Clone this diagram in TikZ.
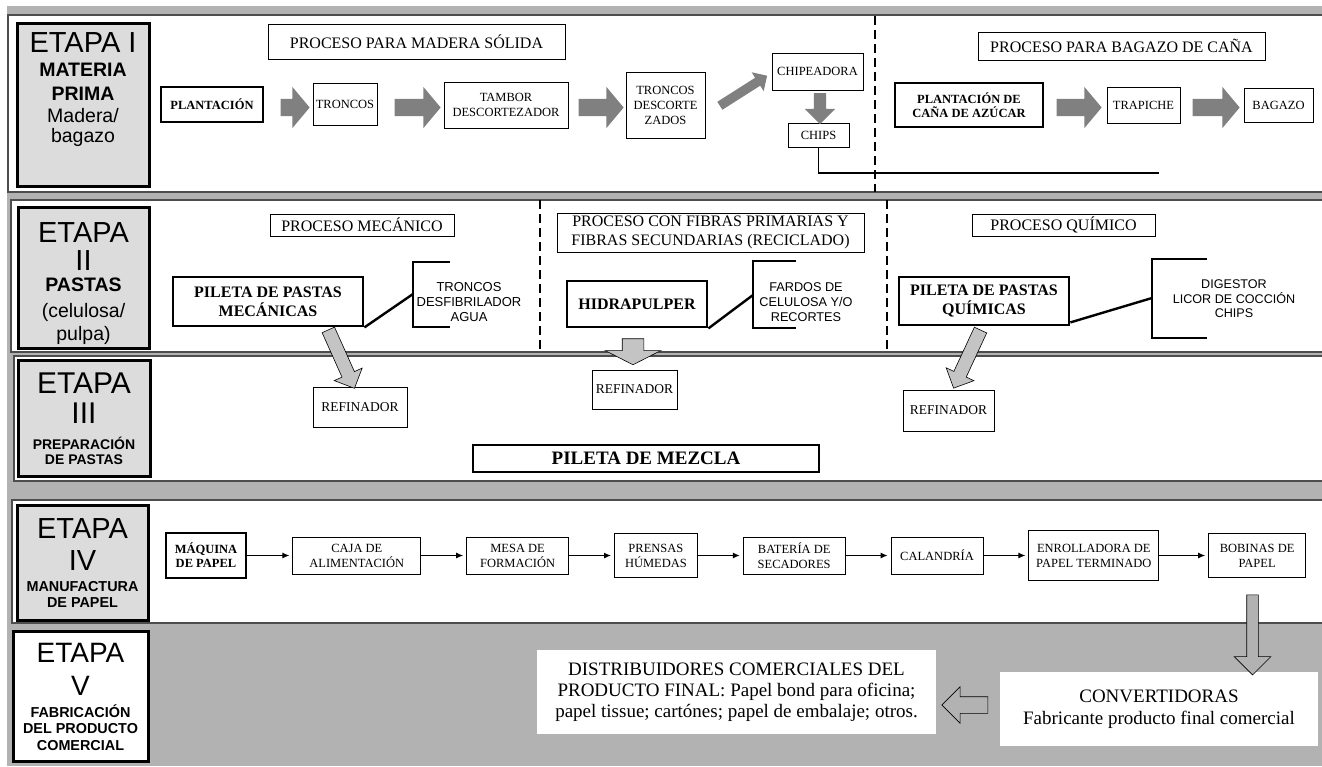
\documentclass[tikz,border=0pt]{standalone}
\usepackage{fontspec}
\setmainfont{Liberation Serif}
\setsansfont{Liberation Sans}
\usetikzlibrary{arrows.meta,shapes.arrows,positioning}
\definecolor{bandgray}{HTML}{B2B2B2}
\definecolor{etapagray}{HTML}{DCDCDC}
\definecolor{fatgray}{HTML}{808080}
\definecolor{lightarrow}{HTML}{C4C4C4}
\definecolor{secline}{HTML}{4D4D4D}
\newcommand{\fsz}[2]{\fontsize{#1}{#2}\selectfont}

\begin{document}
\begin{tikzpicture}[x=1pt, y=-1pt,
    sect/.style = {draw=secline, line width=1.3pt, fill=white},
    etapa/.style = {draw, line width=3pt, fill=etapagray, inner sep=0},
    etxt/.style = {font=\sffamily\fsz{14}{24}, align=center, inner sep=0, anchor=north},
    box/.style = {draw, line width=0.8pt, fill=white, inner sep=0, align=center, font=\fsz{12.5}{15}},
    heavy/.style = {box, line width=2.8pt, font=\bfseries\fsz{12.5}{14}},
    proc/.style = {box, font=\fsz{16}{19.5}},
    ins/.style = {font=\sffamily\fsz{13}{15}, align=center, inner sep=0},
    brk/.style = {line width=2.4pt},
    dashln/.style = {line width=1.3pt, dash pattern=on 9pt off 5pt},
    flow/.style = {-{Latex[length=7pt,width=6pt]}, line width=1.1pt, shorten >=3pt},
    fat/.style = {single arrow, fill=fatgray, inner xsep=0, inner ysep=8.5pt,
                  single arrow head extend=12pt, single arrow tip angle=100},
    outarr/.style = {single arrow, draw, line width=0.6pt, fill=lightarrow, inner xsep=0,
                     single arrow tip angle=90}]

% fondo y franjas
\useasboundingbox (0,0) rectangle (1322,766);
\fill[white] (0,0) rectangle (1322,766);
\fill[bandgray] (7,6) rectangle (1322,766);
\draw[sect] (8,15) rectangle (1330,192);
\draw[sect] (11,200) rectangle (1330,352);
\draw[sect] (14,356) rectangle (1330,481);
\draw[sect] (12,500) rectangle (1330,623);

% etapas
\node[etapa, minimum width=132, minimum height=163] (et1) at (83,104.5) {};
\node[etxt] (et1t) at (83,32) {{\fsz{29}{30}ETAPA I}\\
  {\bfseries\fsz{19.5}{22}MATERIA}\\
  {\bfseries\fsz{19.5}{22}PRIMA}\\[-2pt]
  {\fsz{19.5}{22}Madera/}\\[-4pt]
  {\fsz{19.5}{22}bagazo}};
\node[etapa, minimum width=131, minimum height=141] (et2) at (83.5,277.5) {};
\node[etxt] (et2t) at (83.5,222) {{\fsz{29}{30}ETAPA}\\[4pt]
  {\fsz{29}{30}II}\\[-3pt]
  {\bfseries\fsz{19.5}{22}PASTAS}\\[2pt]
  {\fsz{19.5}{22}(celulosa/}\\[-1pt]
  {\fsz{19.5}{22}pulpa)}};
\node[etapa, minimum width=132, minimum height=116] (et3) at (84,418) {};
\node[etxt] (et3t) at (84,373) {{\fsz{30}{30}ETAPA}\\[6pt]
  {\fsz{30}{30}III}\\[2pt]
  {\bfseries\fsz{14}{16}PREPARACIÓN}\\[-9pt]
  {\bfseries\fsz{14}{16}DE PASTAS}};
\node[etapa, minimum width=131, minimum height=115] (et4) at (82.5,562.5) {};
\node[etxt] (et4t) at (82.5,518) {{\fsz{29}{30}ETAPA}\\[8pt]
  {\fsz{29}{30}IV}\\[-3pt]
  {\bfseries\fsz{14.4}{16}MANUFACTURA}\\[-8pt]
  {\bfseries\fsz{14.4}{16}DE PAPEL}};
\node[etapa, fill=white, minimum width=135, minimum height=130] (et5) at (80.5,696) {};
\node[etxt] (et5t) at (80.5,643) {{\fsz{28}{30}ETAPA}\\[9pt]
  {\fsz{28}{30}V}\\[-2pt]
  {\bfseries\fsz{14.4}{16}FABRICACIÓN}\\[-8pt]
  {\bfseries\fsz{14.4}{16}DEL PRODUCTO}\\[-7pt]
  {\bfseries\fsz{14.4}{16}COMERCIAL}};

% etapa I
\node[proc, minimum width=297, minimum height=35] (madlbl) at (416.5,41.5) {PROCESO PARA MADERA SÓLIDA};
\node[heavy, minimum width=102, minimum height=35] (plant) at (212,104.5) {PLANTACIÓN};
\node[box, minimum width=64, minimum height=42] (tronc) at (345,104) {TRONCOS};
\node[box, minimum width=124, minimum height=46] (tambor) at (506,105) {TAMBOR\\DESCORTEZADOR};
\node[box, minimum width=79, minimum height=66] (tdesc) at (665.5,105) {TRONCOS\\DESCORTE\\ZADOS};
\node[box, minimum width=91, minimum height=37] (chipead) at (817.5,71.5) {CHIPEADORA};
\node[box, minimum width=61, minimum height=24] (chips) at (818.5,135) {CHIPS};
\node[proc, minimum width=287, minimum height=28] (bagzlbl) at (1121.5,46) {PROCESO PARA BAGAZO DE CAÑA};
\node[heavy, minimum width=148, minimum height=44] (plcana) at (969,105) {PLANTACIÓN DE\\CAÑA DE AZÚCAR};
\node[box, minimum width=73, minimum height=36] (trap) at (1143.5,105) {TRAPICHE};
\node[box, minimum width=69, minimum height=34] (bagazo) at (1278.5,105) {BAGAZO};

\node[fat, minimum height=29] (f1) at (291.5,107.5) {};
\node[fat, minimum height=46] (f2) at (414,107.5) {};
\node[fat, minimum height=45] (f3) at (597.5,107.5) {};
\node[fat, inner ysep=4.5pt, single arrow head extend=6.5pt, single arrow tip angle=90,
      minimum height=56, rotate=32.5] (f4) at (741.5,92) {};
\node[fat, inner ysep=6pt, single arrow head extend=9pt, single arrow tip angle=90,
      minimum height=31, rotate=-90] (f5) at (820,105.5) {};
\node[fat, minimum height=45] (f6) at (1075.5,107.5) {};
\node[fat, minimum height=47] (f7) at (1212.5,107.5) {};

\draw[dashln] (875,16) -- (875,192);
\coordinate (chipsend) at (1159,173);
\draw[line width=1.8pt] (chips.south) |- (chipsend);

% etapa II
\node[proc, minimum width=184, minimum height=22] (meclbl) at (362,225) {PROCESO MECÁNICO};
\node[proc, minimum width=307, minimum height=39] (fiblbl) at (710.5,232.5) {PROCESO CON FIBRAS PRIMARIAS Y\\FIBRAS SECUNDARIAS (RECICLADO)};
\node[proc, minimum width=183, minimum height=22] (quilbl) at (1063.5,225) {PROCESO QUÍMICO};
\node[heavy, font=\bfseries\fsz{16}{19}, minimum width=190, minimum height=49] (pilmec) at (268,301.5) {PILETA DE PASTAS\\MECÁNICAS};
\node[heavy, font=\bfseries\fsz{16}{19}, minimum width=140, minimum height=46] (hidra) at (637,304) {HIDRAPULPER};
\node[heavy, font=\bfseries\fsz{16}{19}, minimum width=170, minimum height=48] (pilqui) at (984,301) {PILETA DE PASTAS\\QUÍMICAS};

\node[ins] (mecin) at (469,302) {TRONCOS\\DESFIBRILADOR\\AGUA};
\coordinate (b1) at (413,294);
\draw[brk] (450,262) -| (413,327) -- (450,327);
\draw[brk] (pilmec.south east) -- (b1);

\node[ins, font=\sffamily\fsz{12.7}{15}] (fibin) at (806,302) {FARDOS DE\\CELULOSA Y/O\\RECORTES};
\coordinate (b2) at (753,295);
\draw[brk] (796,261) -| (753,328) -- (796,328);
\draw[brk] (hidra.south east) -- (b2);

\node[ins, font=\sffamily\fsz{12.6}{14.5}] (quiin) at (1234,299) {DIGESTOR\\LICOR DE COCCIÓN\\CHIPS};
\coordinate (b3) at (1152,298);
\draw[brk] (1207,259) -| (1152,338) -- (1207,338);
\draw[brk] ([yshift=4pt]pilqui.south east) -- (b3);

\draw[dashln] (540,200) -- (540,352);
\draw[dashln] (887,200) -- (887,352);

% etapa III
\node[box, font=\fsz{13.5}{16}, minimum width=94, minimum height=40] (ref1) at (360,407) {REFINADOR};
\node[box, font=\fsz{13.5}{16}, minimum width=85, minimum height=39] (ref2) at (634.5,389.5) {REFINADOR};
\node[box, font=\fsz{13.5}{16}, minimum width=91, minimum height=41] (ref3) at (948.5,410.5) {REFINADOR};
\node[heavy, font=\bfseries\fsz{19}{22}, minimum width=346, minimum height=27] (mezcla) at (646,458.5) {PILETA DE MEZCLA};

\node[outarr, inner ysep=6.5pt, single arrow head extend=8.5pt, minimum height=64, rotate=-65.9] (g1) at (340,356) {};
\node[outarr, inner ysep=10.5pt, single arrow head extend=17pt, minimum height=26,
      single arrow tip angle=126, rotate=-90] (g2) at (633,349) {};
\node[outarr, inner ysep=6.5pt, single arrow head extend=8.5pt, minimum height=64, rotate=-114.9] (g3) at (968.5,356) {};

% etapa IV
\node[heavy, minimum width=80, minimum height=45] (maq) at (206,555.5) {MÁQUINA\\DE PAPEL};
\node[box, minimum width=128, minimum height=37, right=45pt of maq] (caja) {CAJA DE\\ALIMENTACIÓN};
\node[box, minimum width=102, minimum height=37, right=45pt of caja] (mesa) {MESA DE\\FORMACIÓN};
\node[box, minimum width=83, minimum height=44, right=45pt of mesa] (prensas) {PRENSAS\\HÚMEDAS};
\node[box, minimum width=102, minimum height=37, right=45pt of prensas] (bateria) {BATERÍA DE\\SECADORES};
\node[box, minimum width=92, minimum height=37, right=45pt of bateria] (calandria) {CALANDRÍA};
\node[box, minimum width=130, minimum height=50, right=45pt of calandria] (enroll) {ENROLLADORA DE\\PAPEL TERMINADO};
\node[box, minimum width=97, minimum height=44, right=49pt of enroll] (bobinas) {BOBINAS DE\\PAPEL};

\draw[flow] (maq) -- (caja);
\draw[flow] (caja) -- (mesa);
\draw[flow] (mesa) -- (prensas);
\draw[flow] (prensas) -- (bateria);
\draw[flow] (bateria) -- (calandria);
\draw[flow] (calandria) -- (enroll);
\draw[flow] (enroll) -- (bobinas);

% etapa V
\node[fill=white, inner sep=0, align=center, font=\fsz{19}{21}, minimum width=399, minimum height=84] (distrib) at (736.5,692)
  {DISTRIBUIDORES COMERCIALES DEL\\PRODUCTO FINAL: Papel bond para oficina;\\papel tissue; cartónes; papel de embalaje; otros.};
\node[fill=white, inner sep=0, align=center, font=\fsz{19}{22}, minimum width=318, minimum height=74] (conv) at (1159,709)
  {CONVERTIDORAS\\Fabricante producto final comercial};

\node[outarr, fill=bandgray, inner ysep=5.5pt, single arrow head extend=12.5pt, minimum height=80, rotate=-90] (d1) at (1252.5,632) {};
\node[outarr, fill=bandgray, inner ysep=8pt, single arrow head extend=10pt, minimum height=46, rotate=180] (d2) at (969,705) {};
\end{tikzpicture}
\end{document}
